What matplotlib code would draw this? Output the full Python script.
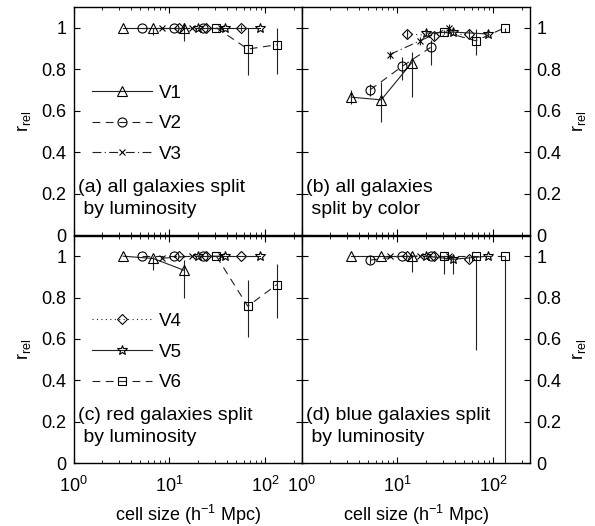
import numpy as np
import matplotlib
matplotlib.use('Agg')
import matplotlib.pyplot as plt

plt.rcParams['font.family'] = ['Liberation Sans', 'DejaVu Sans']
plt.rcParams['mathtext.fontset'] = 'custom'
plt.rcParams['mathtext.rm'] = 'Liberation Sans'
plt.rcParams['mathtext.it'] = 'Liberation Sans:italic'

# cell sizes (h^-1 Mpc) for each volume-limited sample V1..V6
labels = ['V1', 'V2', 'V3', 'V4', 'V5', 'V6']
cell_x = [[3.3, 6.8, 14.2],
          [5.2, 11.2, 22.3],
          [8.3, 17.2, 35.0],
          [12.7, 24.3, 56.0],
          [20.0, 38.5, 88.0],
          [31.0, 66.0, 133.0]]

# (a) all galaxies split by luminosity
a_y = [[1, 1, 1], [1, 1, 1], [1, 1, 1], [1, 1, 1], [1, 1, 1], [1, 0.897, 0.918]]
a_lo = [[0, 0.035, 0.066], [0, 0, 0], [0, 0, 0], [0, 0, 0.015], [0, 0, 0], [0, 0.124, 0.14]]
a_hi = [[0, 0, 0.024], [0, 0, 0], [0, 0, 0], [0, 0, 0.015], [0, 0, 0], [0, 0.1, 0.08]]

# (b) all galaxies split by color
b_y = [[0.665, 0.652, 0.832], [0.70, 0.813, 0.905], [0.87, 0.937, 1.0],
       [0.97, 0.961, 0.97], [0.974, 0.979, 0.97], [0.979, 0.937, 1.0]]
b_lo = [[0.035, 0.105, 0.167], [0.027, 0.064, 0.087], [0.02, 0.02, 0.02],
        [0.02, 0.02, 0.02], [0.015, 0.015, 0.015], [0.01, 0.067, 0.02]]
b_hi = [[0.035, 0.088, 0.05], [0.027, 0.048, 0.035], [0.02, 0.02, 0.02],
        [0.02, 0.02, 0.02], [0.015, 0.015, 0.015], [0.01, 0.055, 0.0]]

# (c) red galaxies split by luminosity
c_y = [[1.0, 0.989, 0.932], [1, 1, 1], [0.99, 1, 1], [1, 1, 1], [1, 1, 1], [1.0, 0.758, 0.863]]
c_lo = [[0, 0.057, 0.136], [0, 0, 0], [0, 0, 0], [0, 0, 0], [0, 0, 0], [0, 0.148, 0.164]]
c_hi = [[0, 0.011, 0.05], [0, 0, 0], [0, 0, 0], [0, 0, 0], [0, 0, 0], [0, 0.126, 0.098]]

# (d) blue galaxies split by luminosity
d_y = [[1, 1, 1], [0.981, 1, 1], [1, 1, 1], [1, 1, 0.985], [1, 0.985, 1], [1, 1, 1]]
d_lo = [[0, 0, 0.076], [0.02, 0, 0], [0, 0, 0], [0, 0, 0.015], [0, 0.069, 0], [0.084, 0.455, 1.0]]
d_hi = [[0, 0, 0], [0.02, 0, 0], [0, 0, 0], [0, 0, 0.015], [0, 0.015, 0], [0, 0, 0]]

panel_text = ['(a) all galaxies split\n by luminosity',
              '(b) all galaxies\n split by color',
              '(c) red galaxies split\n by luminosity',
              '(d) blue galaxies split\n by luminosity']

markers = ['^', 'o', 'x', 'D', '*', 's']
msizes = [7, 6.5, 5, 5.5, 7.5, 6]
styles = ['-', (0, (7, 5)), (0, (8, 3, 1, 3)), (0, (1, 3)), '-', (0, (7, 5))]

fig = plt.figure(figsize=(5.95, 5.26), dpi=100)
W, H = 595.0, 526.0
pos = [(73.5, 7, 228, 228), (301.5, 7, 228, 228),
       (73.5, 235.5, 228, 227.5), (301.5, 235.5, 228, 227.5)]
data = [(a_y, a_lo, a_hi), (b_y, b_lo, b_hi), (c_y, c_lo, c_hi), (d_y, d_lo, d_hi)]

for k in range(4):
    x0, y0, w, h = pos[k]
    ax = fig.add_axes([x0 / W, 1 - (y0 + h) / H, w / W, h / H])
    ys, lo, hi = data[k]
    for i in range(6):
        ax.errorbar(cell_x[i], ys[i], yerr=[lo[i], hi[i]], fmt='none',
                    ecolor='#222222', elinewidth=0.8, capsize=0)
        ax.plot(cell_x[i], ys[i], color='#222222', lw=0.8, linestyle=styles[i],
                marker=markers[i], ms=msizes[i], mfc='none', mec='k', mew=0.8,
                label=labels[i])
    ax.set_xscale('log')
    ax.set_xlim(1, 240)
    ax.set_ylim(0, 1.1)
    ax.set_yticks([0, 0.2, 0.4, 0.6, 0.8, 1.0])
    ax.set_yticklabels(['0', '0.2', '0.4', '0.6', '0.8', '1'])
    ax.tick_params(which='both', direction='in', top=True, right=True, labelsize=13)
    ax.tick_params(which='major', length=4)
    ax.tick_params(which='minor', length=2)
    ax.tick_params(axis='y', pad=5)
    ax.tick_params(axis='x', pad=9)
    for s in ax.spines.values():
        s.set_linewidth(1.0)
    ax.set_ylabel(r'r$_{\rm rel}$', fontsize=13, labelpad=6)
    if k % 2 == 1:
        ax.yaxis.tick_right()
        ax.yaxis.set_label_position('right')
        ax.tick_params(which='both', left=True)
        ax.yaxis.set_tick_params(labelleft=False, labelright=True)
    if k < 2:
        ax.tick_params(labelbottom=False)
    else:
        ax.set_xlabel(r'cell size (h$^{-1}$ Mpc)', fontsize=13, labelpad=5)
    ax.text(0.02, 0.16, panel_text[k], transform=ax.transAxes, fontsize=14,
            va='center', ha='left', linespacing=1.4)
    if k == 0 or k == 2:
        hs, ls = ax.get_legend_handles_labels()
        sel = [0, 1, 2] if k == 0 else [3, 4, 5]
        ax.legend([hs[j] for j in sel], [ls[j] for j in sel], loc='upper left',
                  bbox_to_anchor=(0.08, 0.66), frameon=False,
                  fontsize=13.5, handlelength=3.2, labelspacing=0.72,
                  handletextpad=0.4, borderpad=0, borderaxespad=0)

fig.savefig('out.png', dpi=100)
